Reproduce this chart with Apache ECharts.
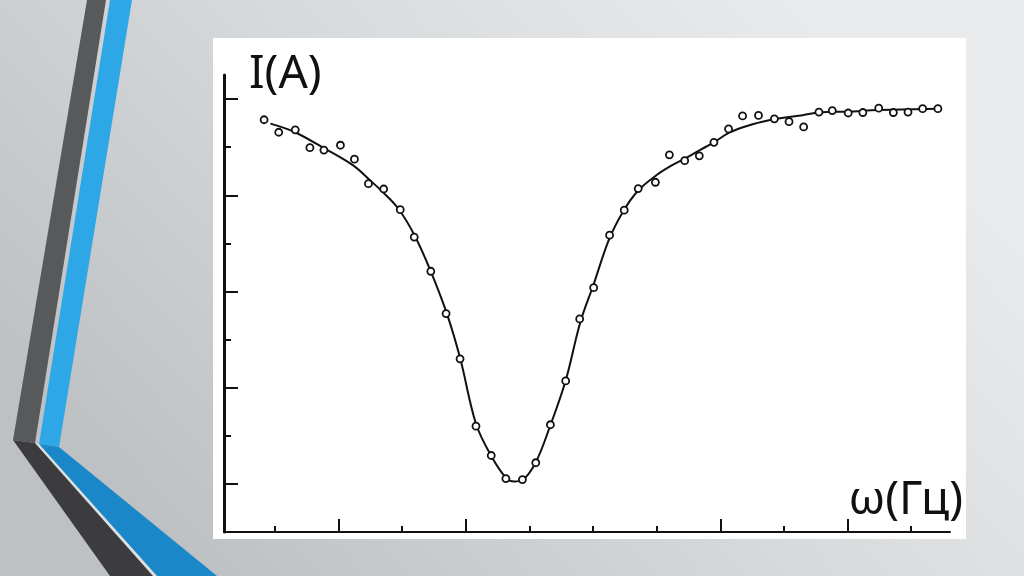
<!DOCTYPE html>
<html>
<head>
<meta charset="utf-8">
<script src="https://cdn.jsdelivr.net/npm/echarts@6/dist/echarts.min.js"></script>
<style>
html,body{margin:0;padding:0;background:#d4d7d9;}
#chart{width:1024px;height:576px;}
</style>
</head>
<body>
<div id="chart"></div>
<script>
// measured points (ω in tick units, I in tick units)
var pointX = [0.83,1.06,1.32,1.55,1.77,2.03,2.25,2.47,2.71,2.97,3.19,3.45,3.69,3.91,4.16,4.40,4.63,4.89,5.10,5.33,5.57,5.79,6.01,6.26,6.49,6.71,6.98,7.20,7.44,7.67,7.90,8.13,8.35,8.60,8.85,9.08,9.31,9.55,9.76,10.01,10.24,10.49,10.72,10.95,11.18,11.42];
var pointY = [8.57,8.31,8.36,7.99,7.94,8.04,7.75,7.24,7.13,6.70,6.13,5.42,4.54,3.60,2.20,1.59,1.11,1.09,1.44,2.23,3.14,4.43,5.08,6.17,6.69,7.14,7.27,7.84,7.72,7.82,8.10,8.38,8.65,8.66,8.59,8.53,8.42,8.73,8.76,8.71,8.72,8.81,8.72,8.73,8.80,8.80];
// fitted curve
var curveX = [0.93,1.30,1.77,2.23,2.48,2.70,2.94,3.19,3.44,3.70,3.91,4.16,4.40,4.63,4.76,4.89,5.10,5.33,5.57,5.80,6.01,6.25,6.48,6.71,7.00,7.21,7.44,7.68,7.90,8.14,8.42,8.73,9.31,9.55,10.01,10.49,11.42];
var curveY = [8.49,8.32,7.98,7.62,7.33,7.06,6.72,6.18,5.45,4.55,3.62,2.25,1.58,1.13,1.05,1.08,1.45,2.22,3.15,4.36,5.15,6.08,6.68,7.10,7.42,7.60,7.76,7.94,8.10,8.30,8.44,8.55,8.67,8.72,8.74,8.77,8.80];
// tick positions
var xMajorTicks = [2,4,8,10];
var xMinorTicks = [1,3,5,6,7,9,11];
var yMajorTicks = [1,3,5,7,9];
var yMinorTicks = [2,4,6,8];
var yName = 'I(A)';
var xName = 'ω(Гц)';

var chart = echarts.init(document.getElementById('chart'), null, {renderer:'canvas'});

function zip(a,b){ return a.map(function(v,i){ return [v,b[i]]; }); }

var axisBase = {
  type:'value', min:0.2, max:11.61,
  axisLabel:{show:false}, splitLine:{show:false}
};

var option = {
  backgroundColor:{
    type:'linear', x:0.2, y:1, x2:0.8, y2:0,
    colorStops:[{offset:0,color:'#bdc1c4'},{offset:0.5,color:'#d6d9db'},{offset:1,color:'#eaebec'}]
  },
  animation:false,
  graphic:[
    {type:'polygon', z:-10, shape:{points:[[34,443],[40,444],[158,576],[152,576]]}, style:{fill:'#dde0e1'}},
    {type:'polygon', z:-9, shape:{points:[[87,0],[106,0],[35,443],[13,440]]}, style:{fill:'#58595b'}},
    {type:'polygon', z:-9, shape:{points:[[13,440],[35,443],[153,576],[110,576]]}, style:{fill:'#3c3c3e'}},
    {type:'polygon', z:-9, shape:{points:[[110,0],[132,0],[59,447],[39,444]]}, style:{fill:'#2da7e6'}},
    {type:'polygon', z:-9, shape:{points:[[39,444],[59,447],[217,576],[157,576]]}, style:{fill:'#1a88c8'}},
    {type:'rect', z:-8, shape:{x:213, y:38, width:753, height:501}, style:{fill:'#ffffff'}},
    {type:'text', z:10, x:249, y:75, style:{text:yName, font:'46px "Noto Sans"', fill:'#111', textAlign:'left', textVerticalAlign:'middle'}},
    {type:'text', z:10, x:963, y:501, style:{text:xName, font:'46px "Noto Sans"', fill:'#111', textAlign:'right', textVerticalAlign:'middle'}}
  ],
  grid:{left:224, right:74, top:75, bottom:44, containLabel:false},
  xAxis:[
    Object.assign({}, axisBase, {
      position:'bottom',
      axisLine:{show:true, lineStyle:{color:'#111', width:2}},
      axisTick:{show:true, inside:true, length:13, customValues:xMajorTicks, lineStyle:{color:'#111', width:2}}
    }),
    Object.assign({}, axisBase, {
      position:'bottom',
      axisLine:{show:false},
      axisTick:{show:true, inside:true, length:6, customValues:xMinorTicks, lineStyle:{color:'#111', width:2}}
    })
  ],
  yAxis:[
    {
      type:'value', min:0, max:9.5, position:'left',
      axisLabel:{show:false}, splitLine:{show:false},
      axisLine:{show:true, lineStyle:{color:'#111', width:3}},
      axisTick:{show:true, inside:true, length:14, customValues:yMajorTicks, lineStyle:{color:'#111', width:2}}
    },
    {
      type:'value', min:0, max:9.5, position:'left', offset:0,
      axisLabel:{show:false}, splitLine:{show:false},
      axisLine:{show:false},
      axisTick:{show:true, inside:true, length:7, customValues:yMinorTicks, lineStyle:{color:'#111', width:2}}
    }
  ],
  series:[
    {
      type:'line', name:'fit', xAxisIndex:0, yAxisIndex:0,
      data:zip(curveX, curveY), smooth:0.35,
      symbol:'none', lineStyle:{color:'#111', width:2}, z:2
    },
    {
      type:'scatter', name:'data', xAxisIndex:0, yAxisIndex:0,
      data:zip(pointX, pointY), symbol:'circle', symbolSize:7,
      itemStyle:{color:'#ffffff', borderColor:'#111', borderWidth:1.8, opacity:1}, z:3
    }
  ]
};
chart.setOption(option);
</script>
</body>
</html>
